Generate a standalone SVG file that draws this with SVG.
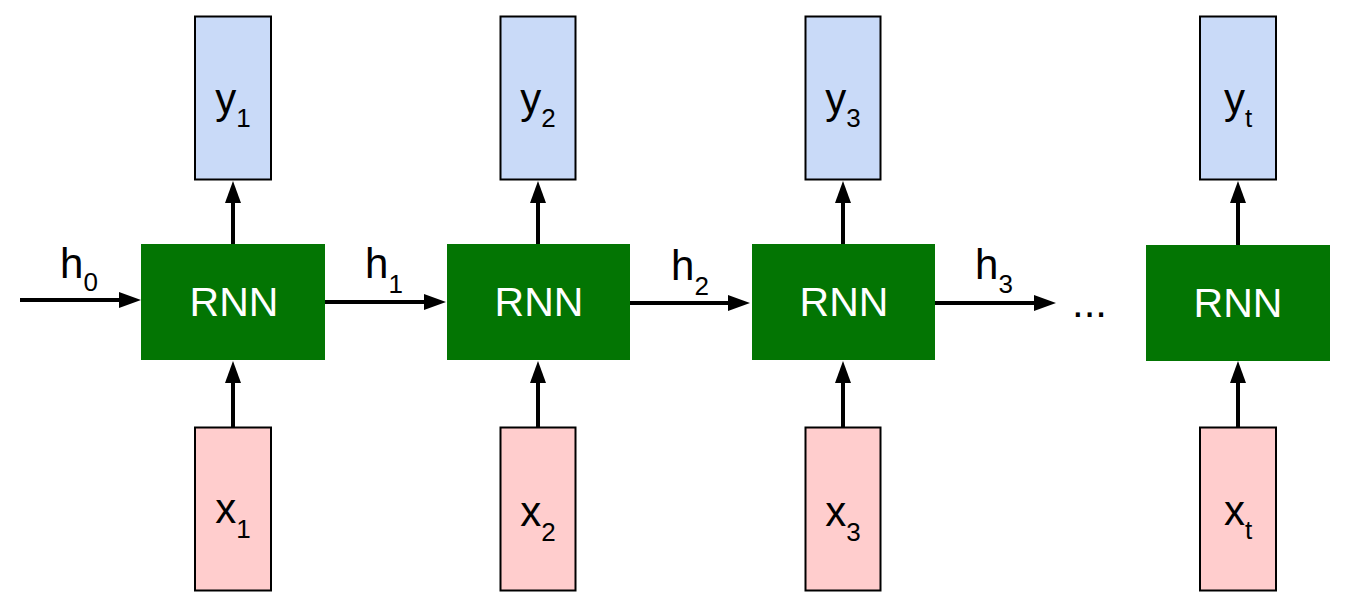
<svg xmlns="http://www.w3.org/2000/svg" width="1347" height="604" viewBox="0 0 1347 604">
<style>
.rnn{fill:#037503}
.out{fill:#c9daf8;stroke:#000;stroke-width:2}
.inp{fill:#ffcdcd;stroke:#000;stroke-width:2}
.t{font-family:"Liberation Sans",Arial,sans-serif;font-size:42px;fill:#000}
.r{font-size:41px;fill:#fff}
.s{font-size:26px}
.c{stroke:#000;stroke-width:4;fill:none;marker-end:url(#ah)}
</style>
<defs>
<marker id="ah" markerUnits="userSpaceOnUse" markerWidth="22" markerHeight="16" refX="14" refY="8" orient="auto">
<path d="M0,0 L22,8 L0,16 Z" fill="#000"/>
</marker>
</defs>
<rect width="1347" height="604" fill="#fff"/>
<g id="connectors">
<line class="c" x1="20" y1="300" x2="133" y2="300"/>
<line class="c" x1="325" y1="302" x2="438" y2="302"/>
<line class="c" x1="630" y1="303" x2="742" y2="303"/>
<line class="c" x1="935" y1="303" x2="1048" y2="303"/>
<line class="c" x1="233" y1="244" x2="233" y2="189"/>
<line class="c" x1="538" y1="244" x2="538" y2="189"/>
<line class="c" x1="843" y1="244" x2="843" y2="189"/>
<line class="c" x1="1238" y1="245" x2="1238" y2="189"/>
<line class="c" x1="233" y1="427" x2="233" y2="369"/>
<line class="c" x1="538" y1="427" x2="538" y2="369"/>
<line class="c" x1="843" y1="427" x2="843" y2="369"/>
<line class="c" x1="1238" y1="427" x2="1238" y2="369"/>
</g>
<g id="labels">
<text class="t" x="79" y="278" text-anchor="middle">h<tspan class="s" dy="13">0</tspan></text>
<text class="t" x="384" y="278" text-anchor="middle">h<tspan class="s" dy="15">1</tspan></text>
<text class="t" x="690" y="280" text-anchor="middle">h<tspan class="s" dy="15">2</tspan></text>
<text class="t" x="994" y="279" text-anchor="middle">h<tspan class="s" dy="14">3</tspan></text>
<text class="t" x="1072" y="317">...</text>
</g>
<g id="rnn1"><rect class="rnn" x="141" y="244" width="184" height="116"/><text class="t r" x="234" y="316" text-anchor="middle">RNN</text></g>
<g id="rnn2"><rect class="rnn" x="447" y="244" width="183" height="116"/><text class="t r" x="539" y="316" text-anchor="middle">RNN</text></g>
<g id="rnn3"><rect class="rnn" x="752" y="244" width="183" height="116"/><text class="t r" x="844" y="316" text-anchor="middle">RNN</text></g>
<g id="rnn4"><rect class="rnn" x="1146" y="245" width="184" height="116"/><text class="t r" x="1238" y="317" text-anchor="middle">RNN</text></g>
<g id="y1"><rect class="out" x="195" y="16.5" width="76" height="163"/><text class="t" x="233" y="113" text-anchor="middle">y<tspan class="s" dy="14">1</tspan></text></g>
<g id="y2"><rect class="out" x="500.5" y="16.5" width="75" height="163"/><text class="t" x="538" y="113" text-anchor="middle">y<tspan class="s" dy="14">2</tspan></text></g>
<g id="y3"><rect class="out" x="805.5" y="16.5" width="75" height="163"/><text class="t" x="843" y="113" text-anchor="middle">y<tspan class="s" dy="14">3</tspan></text></g>
<g id="yt"><rect class="out" x="1200" y="16.5" width="76" height="163"/><text class="t" x="1238" y="113" text-anchor="middle">y<tspan class="s" dy="14">t</tspan></text></g>
<g id="x1"><rect class="inp" x="195" y="427.5" width="76" height="163"/><text class="t" x="233" y="523" text-anchor="middle">x<tspan class="s" dy="15">1</tspan></text></g>
<g id="x2"><rect class="inp" x="500.5" y="427.5" width="75" height="163"/><text class="t" x="538" y="526" text-anchor="middle">x<tspan class="s" dy="15">2</tspan></text></g>
<g id="x3"><rect class="inp" x="805.5" y="427.5" width="75" height="163"/><text class="t" x="843" y="526" text-anchor="middle">x<tspan class="s" dy="15">3</tspan></text></g>
<g id="xt"><rect class="inp" x="1200" y="427.5" width="76" height="163"/><text class="t" x="1238" y="525" text-anchor="middle">x<tspan class="s" dy="14">t</tspan></text></g>
</svg>
